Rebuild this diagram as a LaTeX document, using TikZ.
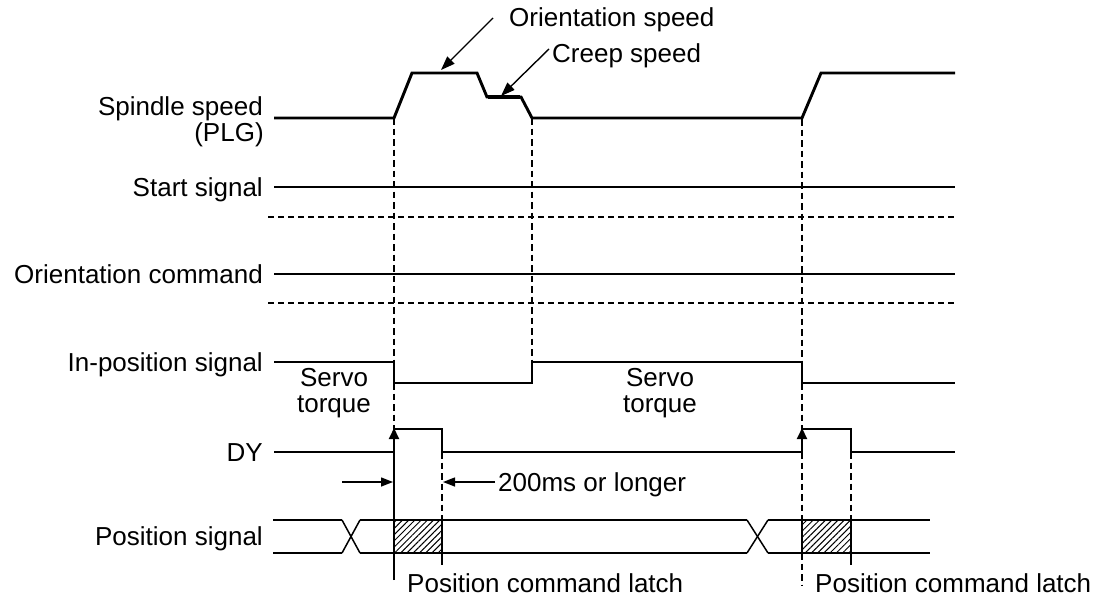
\documentclass[tikz,border=0pt]{standalone}
\usepackage{fontspec}
\setmainfont{Liberation Sans}
\usetikzlibrary{arrows.meta,patterns.meta}
\begin{document}
\begin{tikzpicture}[x=1pt,y=-1pt,
  sig/.style={line width=2.9pt, line join=miter},
  xing/.style={line width=1.5pt},
  guide/.style={line width=2.4pt, dash pattern=on 6.5pt off 4pt},
  hguide/.style={line width=2.1pt, dash pattern=on 6pt off 4pt},
  edge/.style={line width=2pt},
  lbl/.style={font=\fontsize{26}{30}\selectfont, inner sep=0pt},
  lead/.style={line width=1.4pt, -{Triangle[length=14pt,width=10pt]}},
  meas/.style={line width=1.4pt, -{Triangle[length=12pt,width=9pt]}},
  uptip/.style={-{Triangle[length=11pt,width=10pt]}},
  hatch/.style={pattern={Lines[angle=45,distance=4.4pt,line width=1pt]}},
]
\useasboundingbox (0,0) rectangle (1099,599);

% labels
\node[lbl, anchor=base east] (spd) at (263,115) {Spindle speed};
\node[lbl, anchor=base] (plg) at (229,141) {(PLG)};
\node[lbl, anchor=base east] (start) at (263,196) {Start signal};
\node[lbl, anchor=base east] (ori) at (263,283) {Orientation command};
\node[lbl, anchor=base east] (inpos) at (263,371) {In-position signal};
\node[lbl, anchor=base east] (dy) at (263,461) {DY};
\node[lbl, anchor=base east] (pos) at (263,545) {Position signal};
\node[lbl, anchor=base] (servo1) at (334,386) {Servo};
\node[lbl, anchor=base] (torque1) at (334,412) {torque};
\node[lbl, anchor=base] (servo2) at (660,386) {Servo};
\node[lbl, anchor=base] (torque2) at (660,412) {torque};
\node[lbl, anchor=base west] (ospd) at (509,27) {Orientation speed};
\node[lbl, anchor=base west] (cspd) at (552,63) {Creep speed};
\node[lbl, anchor=base west] (t200) at (498,491) {200ms or longer};
\node[lbl, anchor=base west] (latch1) at (407,592) {Position command latch};
\node[lbl, anchor=base west] (latch2) at (815,592) {Position command latch};

% key points
\coordinate (olead) at (493,18);
\coordinate (otip) at (441,70);
\coordinate (clead) at (549,49);
\coordinate (ctip) at (501,96);

% hatched boxes
\fill[hatch] (394,520) rectangle (442,553);
\fill[hatch] (802,520) rectangle (851,553);

% dashed guides
\draw[guide] (394,118) -- (394,362);
\draw[guide] (394,383) -- (394,430);
\draw[guide] (532,118) -- (532,362);
\draw[guide] (802,119) -- (802,362);
\draw[guide] (802,383) -- (802,430);
\draw[guide] (802,452) -- (802,520);
\draw[guide] (802,553) -- (802,586);
\draw[guide] (442,452) -- (442,520);
\draw[guide] (851,452) -- (851,520);
\draw[hguide] (268,217) -- (955,217);
\draw[hguide] (268,303) -- (955,303);

% spindle speed
\draw[sig] (274,118) -- (394,118) -- (412,73) -- (477,73) -- (487,97) -- (521,97) -- (532,118) -- (802,118) -- (821,73) -- (955,73);
\draw[line width=3.8pt] (488,97) -- (520,97);
\draw[lead] (olead) -- (otip);
\draw[lead] (clead) -- (ctip);

% start / orientation
\draw[sig] (274,187) -- (955,187);
\draw[sig] (274,274) -- (955,274);

% in-position
\draw[sig] (274,362) -- (394,362) -- (394,383) -- (532,383) -- (532,362) -- (802,362) -- (802,383) -- (955,383);

% DY
\draw[sig] (274,452) -- (394,452) -- (394,429) -- (442,429) -- (442,452) -- (802,452) -- (802,429) -- (851,429) -- (851,452) -- (955,452);
\draw[edge, uptip] (394,580) -- (394,428);
\draw[edge, uptip] (802,452) -- (802,428);

% timing measure
\draw[meas] (342,482) -- (393,482);
\draw[meas] (495,482) -- (443,482);

% position signal
\draw[sig] (273,520) -- (342,520);
\draw[sig] (273,553) -- (342,553);
\draw[xing] (342,520) -- (360,553);
\draw[xing] (342,553) -- (360,520);
\draw[sig] (360,520) -- (747,520);
\draw[sig] (360,553) -- (747,553);
\draw[xing] (747,520) -- (768,553);
\draw[xing] (747,553) -- (768,520);
\draw[sig] (768,520) -- (930,520);
\draw[sig] (768,553) -- (930,553);
\draw[edge] (442,520) -- (442,565);
\draw[edge] (802,520) -- (802,553);
\draw[edge] (851,520) -- (851,565);
\end{tikzpicture}
\end{document}
